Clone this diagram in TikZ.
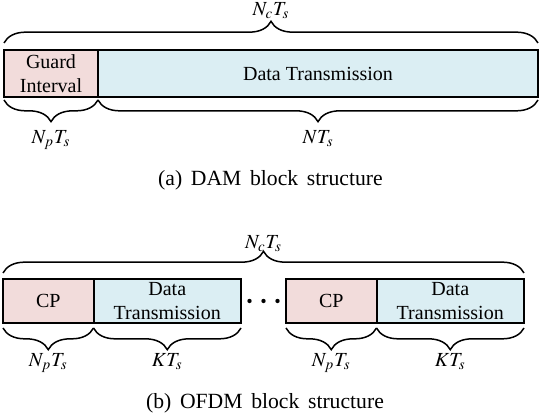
\documentclass[tikz,border=0pt]{standalone}
\usepackage{mathptmx}
\usepackage{fontspec}
\setmainfont{Liberation Serif}
\usetikzlibrary{positioning,calc,decorations.pathreplacing}
\definecolor{guardred}{RGB}{242,220,219}
\definecolor{datablue}{RGB}{219,238,243}
\newcommand{\capfont}{\fontsize{13}{15}\selectfont\spaceskip=0.4em\relax}

\begin{document}
\begin{tikzpicture}[x=1pt,y=1pt,line width=1.2pt,
    part/.style={draw,outer sep=0pt,inner sep=0pt,align=center,font=\fontsize{12}{14.5}\selectfont},
    guard/.style={part,fill=guardred},
    data/.style={part,fill=datablue},
    brc/.style={decorate,decoration={brace,amplitude=13pt},line width=0.9pt},
    brcd/.style={brc,decoration={mirror}},
    lbl/.style={anchor=base,inner sep=0pt,font=\fontsize{12}{14}\selectfont},
    captxt/.style={anchor=base,inner sep=0pt,font=\capfont}]

    \useasboundingbox (0,0) rectangle (324,248.4);

    % (a) DAM
    \node[guard,minimum width=56.4pt,minimum height=28.2pt,anchor=south west] (g1) at (2.4,190.2) {Guard\\Interval};
    \node[data,minimum width=264pt,minimum height=28.2pt] (d1) [right=0pt of g1] {Data Transmission};

    \draw[brc] ([yshift=4.2pt]g1.north west) -- ([yshift=4.2pt]d1.north east) coordinate[midway] (ta);
    \draw[brcd] ([yshift=-1.8pt]g1.south west) -- ([yshift=-1.8pt]g1.south east) coordinate[midway] (ba1);
    \draw[brcd] ([yshift=-1.8pt]d1.south west) -- ([yshift=-1.8pt]d1.south east) coordinate[midway] (ba2);

    \node[lbl] (nca) at ([yshift=16.5pt]ta) {$N_cT_s$};
    \node[lbl] (npa) at ([yshift=-26pt]ba1) {$N_pT_s$};
    \node[lbl] (na) at ([yshift=-26pt]ba2) {$NT_s$};

    \node[captxt] (capa) at (162.3,136.8) {(a) DAM block structure};

    % (b) OFDM
    \node[guard,minimum width=54.3pt,minimum height=26.4pt,anchor=south west] (c1) at (1.8,54.6) {CP};
    \node[data,minimum width=88.5pt,minimum height=26.4pt] (d2) [right=0pt of c1] {Data\\Transmission};
    \node[guard,minimum width=54.3pt,minimum height=26.4pt,anchor=south west] (c2) at (171.6,54.6) {CP};
    \node[data,minimum width=88.5pt,minimum height=26.4pt] (d3) [right=0pt of c2] {Data\\Transmission};

    \foreach \x in {-8.4,0,8.4}
        \fill ([xshift=\x pt]$(d2.east)!0.5!(c2.west)$) circle (1.3pt);

    \draw[brc] ([yshift=3.6pt]c1.north west) -- ([yshift=3.6pt]d3.north east) coordinate[midway] (tb);
    \draw[brcd] ([yshift=-3pt]c1.south west) -- ([yshift=-3pt]c1.south east) coordinate[midway] (bb1);
    \draw[brcd] ([yshift=-3pt]d2.south west) -- ([yshift=-3pt]d2.south east) coordinate[midway] (bb2);
    \draw[brcd] ([yshift=-3pt]c2.south west) -- ([yshift=-3pt]c2.south east) coordinate[midway] (bb3);
    \draw[brcd] ([yshift=-3pt]d3.south west) -- ([yshift=-3pt]d3.south east) coordinate[midway] (bb4);

    \node[lbl] (ncb) at ([yshift=14.5pt]tb) {$N_cT_s$};
    \node[lbl] (npb1) at ([yshift=-23pt]bb1) {$N_pT_s$};
    \node[lbl] (kb1) at ([yshift=-23pt]bb2) {$KT_s$};
    \node[lbl] (npb2) at ([yshift=-23pt]bb3) {$N_pT_s$};
    \node[lbl] (kb2) at ([yshift=-23pt]bb4) {$KT_s$};

    \node[captxt] (capb) at (159,3) {(b) OFDM block structure};
\end{tikzpicture}
\end{document}
